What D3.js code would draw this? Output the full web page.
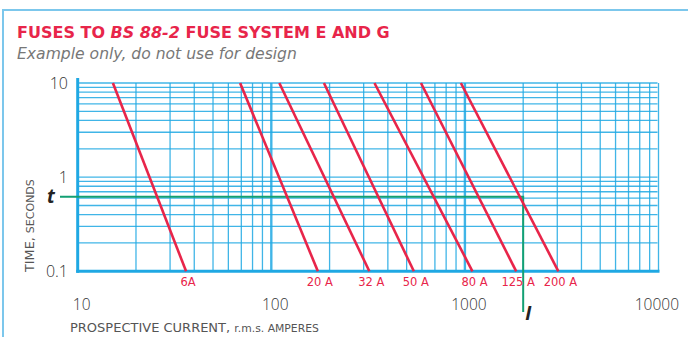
<!DOCTYPE html>
<html><head><meta charset="utf-8">
<script src="https://cdn.jsdelivr.net/npm/d3@7/dist/d3.min.js"></script>
<style>
html,body{margin:0;padding:0;background:#fff;}
svg{display:block;font-family:"Open Sans","Noto Sans",sans-serif;}
.dv{font-family:"DejaVu Sans",sans-serif;}
</style></head>
<body><svg id="c" width="688" height="337"></svg>
<script>
// ---- data ----
const fuseLabels = ["6A", "20 A", "32 A", "50 A", "80 A", "125 A", "200 A"];
const currentAt10s = [15.2, 69, 110, 187, 341, 593, 953];     // amperes at t = 10 s
const currentAt01s = [36.3, 174, 321, 545, 1094, 1841, 3040]; // amperes at t = 0.1 s
const timeEnds = [10, 0.1];
const xTickValues = [10, 100, 1000, 10000];
const xTickLabels = ["10", "100", "1000", "10000"];
const yTickValues = [10, 1, 0.1];
const yTickLabels = ["10", "1", "0.1"];
const exampleTime = 0.62;      // t
const exampleCurrent = 2000;   // I

// ---- layout ----
const svg = d3.select("#c");
const RED = "#e8254a", BLUE = "#1fa8e3", GREEN = "#13a073";
const x = d3.scaleLog().domain([10, 10000]).range([77.7, 658.5]);
const y = d3.scaleLog().domain([0.1, 10]).range([271.3, 83]);

// frame
svg.append("rect").attr("x", 3).attr("y", 10).attr("width", 720).attr("height", 400)
  .attr("fill", "none").attr("stroke", "#7cc7ec").attr("stroke-width", 2);

// title
const title = svg.append("text").attr("class", "dv").attr("x", 17).attr("y", 37.5)
  .attr("fill", RED).attr("font-size", 16).attr("font-weight", 700);
title.append("tspan").text("FUSES TO ");
title.append("tspan").attr("font-style", "italic").text("BS 88-2");
title.append("tspan").text(" FUSE SYSTEM E AND G");
svg.append("text").attr("class", "dv").attr("x", 17).attr("y", 59).attr("fill", "#777")
  .attr("font-size", 15.6).attr("font-style", "italic")
  .text("Example only, do not use for design");

// grid values
const xGrid = [], yGrid = [];
[10, 100, 1000].forEach(d => { for (let k = 1; k < 10; k++) xGrid.push(d * k); });
xGrid.push(10000);
[0.1, 1].forEach(d => { for (let k = 1; k < 10; k++) yGrid.push(+(d * k).toFixed(2)); });
yGrid.push(10);

const g = svg.append("g");
g.selectAll(".hg").data(yGrid).join("line")
  .attr("x1", x(10)).attr("x2", x(10000) - 1)
  .attr("y1", d => y(d)).attr("y2", d => y(d))
  .attr("stroke", BLUE).attr("stroke-width", 1.3).attr("stroke-opacity", 0.85);
g.selectAll(".vg").data(xGrid).join("line")
  .attr("x1", d => x(d)).attr("x2", d => x(d))
  .attr("y1", y(10)).attr("y2", y(0.1))
  .attr("stroke", BLUE)
  .attr("stroke-width", d => (d === 100 || d === 1000) ? 2.4 : 1.3)
  .attr("stroke-opacity", 0.85);

// axes lines
svg.append("line").attr("x1", x(10)).attr("x2", x(10)).attr("y1", y(10) - 5).attr("y2", y(0.1) + 1.5)
  .attr("stroke", BLUE).attr("stroke-width", 3);
svg.append("line").attr("x1", x(10) - 1.5).attr("x2", x(10000) + 1).attr("y1", y(0.1)).attr("y2", y(0.1))
  .attr("stroke", BLUE).attr("stroke-width", 3);

// tick labels
svg.selectAll(".yt").data(yTickValues).join("text")
  .attr("x", 68).attr("y", d => y(d)).attr("dy", "0.36em")
  .attr("text-anchor", "end").attr("fill", "#333").attr("font-size", 16).attr("font-weight", 300)
  .text((d, i) => yTickLabels[i]);
svg.selectAll(".xt").data(xTickValues).join("text")
  .attr("y", 310)
  .attr("text-anchor", "middle").attr("fill", "#333").attr("font-size", 15.5).attr("font-weight", 300)
  .text((d, i) => xTickLabels[i])
  .attr("x", function (d) {
    const w = this.getComputedTextLength();
    return Math.min(x(d) + 4, 679 - w / 2);
  });

// axis titles
const yt = svg.append("text").attr("class", "dv").attr("transform", "translate(34,272) rotate(-90)")
  .attr("fill", "#555").attr("font-size", 12.8);
yt.append("tspan").text("TIME, ");
yt.append("tspan").attr("font-size", 11).text("SECONDS");
const xt = svg.append("text").attr("class", "dv").attr("x", 70).attr("y", 332).attr("fill", "#555").attr("font-size", 13);
xt.append("tspan").text("PROSPECTIVE CURRENT, ");
xt.append("tspan").attr("font-size", 10.8).text("r.m.s. AMPERES");

// example t / I lines
svg.append("path")
  .attr("d", d3.line()([[60, y(exampleTime)], [x(exampleCurrent), y(exampleTime)], [x(exampleCurrent), 312]]))
  .attr("fill", "none").attr("stroke", GREEN).attr("stroke-width", 2);
svg.append("text").attr("x", 47).attr("y", y(exampleTime)).attr("dy", "0.35em")
  .attr("font-size", 19).attr("font-weight", 700).attr("font-style", "italic").attr("fill", "#222").text("t");
svg.append("text").attr("x", x(exampleCurrent) + 2).attr("y", 320)
  .attr("font-size", 19).attr("font-weight", 700).attr("font-style", "italic").attr("fill", "#222").text("I");

// fuse curves
const fuses = fuseLabels.map((l, i) => ({label: l, pts: [[currentAt10s[i], timeEnds[0]], [currentAt01s[i], timeEnds[1]]]}));
const line = d3.line().x(d => x(d[0])).y(d => y(d[1]));
svg.selectAll(".fuse").data(fuses).join("path")
  .attr("d", d => line(d.pts)).attr("fill", "none").attr("stroke", RED).attr("stroke-width", 2.6);
svg.selectAll(".fl").data(fuses).join("text")
  .attr("class", "dv")
  .attr("x", d => x(d.pts[1][0]) + 2).attr("y", 286)
  .attr("text-anchor", "middle").attr("fill", RED).attr("font-size", 11.5)
  .text(d => d.label);
</script></body></html>
